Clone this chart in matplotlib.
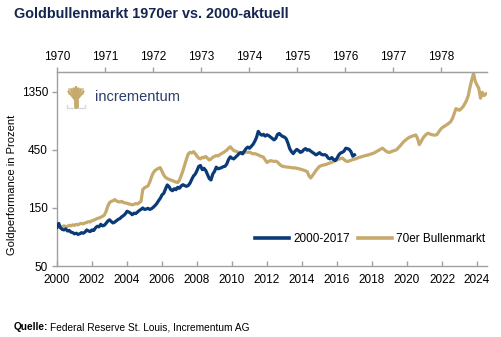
import matplotlib
matplotlib.use("Agg")
import numpy as np
import matplotlib.pyplot as plt
from matplotlib.ticker import FixedLocator, NullLocator, FixedFormatter

# --- data -------------------------------------------------------------
# Gold performance since Jan 2000 (index, start = 100), sampled every 0.1 year
perf_2000 = [
    104, 112, 103, 100, 99, 101, 97, 98, 95, 94,            # 2000
    92, 93, 91, 92, 94, 93, 95, 99, 97, 96,                 # 2001
    99, 98, 103, 106, 105, 110, 107, 108, 112, 117,         # 2002
    120, 116, 113, 115, 118, 121, 123, 127, 130, 134,       # 2003
    141, 139, 136, 132, 136, 135, 139, 143, 146, 150,       # 2004
    146, 147, 149, 146, 148, 152, 157, 163, 172, 180,       # 2005
    192, 198, 215, 232, 225, 212, 208, 216, 212, 222,       # 2006
    218, 228, 233, 229, 226, 230, 240, 258, 275, 285,       # 2007
    305, 330, 335, 310, 318, 305, 282, 262, 255, 285,       # 2008
    300, 325, 315, 318, 322, 328, 330, 345, 375, 395,       # 2009
    385, 380, 392, 405, 420, 428, 418, 440, 462, 475,       # 2010
    465, 482, 500, 530, 570, 640, 610, 595, 605, 585,       # 2011
    600, 590, 575, 560, 545, 560, 605, 615, 595, 580,       # 2012
    575, 555, 510, 460, 435, 420, 440, 455, 445, 430,       # 2013
    435, 452, 462, 448, 452, 440, 430, 420, 410, 418,       # 2014
    428, 415, 410, 412, 405, 385, 380, 390, 375, 368,       # 2015
    385, 410, 425, 430, 440, 465, 462, 455, 435, 400,       # 2016
    410,                                                    # 2017
]

# Gold bull market of the 1970s, stretched onto the same time axis
perf_70s = [
    104, 106, 104, 105, 107, 105, 106, 108, 107, 109,       # 2000
    108, 110, 109, 111, 112, 111, 113, 114, 116, 115,       # 2001
    118, 119, 121, 123, 124, 126, 128, 131, 140, 155,       # 2002
    166, 170, 172, 176, 171, 169, 168, 170, 166, 165,       # 2003
    164, 162, 161, 159, 161, 163, 162, 166, 170, 212,       # 2004
    220, 224, 228, 245, 270, 292, 305, 312, 318, 322,       # 2005
    300, 280, 268, 262, 258, 255, 252, 248, 245, 243,       # 2006
    255, 278, 305, 340, 380, 418, 430, 425, 436, 420,       # 2007
    400, 385, 380, 392, 388, 398, 385, 372, 380, 392,       # 2008
    398, 405, 402, 412, 420, 428, 438, 448, 465, 478,       # 2009
    460, 445, 440, 435, 428, 425, 422, 428, 432, 430,       # 2010
    432, 425, 418, 420, 415, 410, 402, 398, 392, 372,       # 2011
    355, 362, 368, 365, 362, 364, 358, 345, 335, 330,       # 2012
    328, 326, 325, 324, 322, 320, 321, 318, 316, 313,       # 2013
    310, 307, 303, 298, 275, 265, 278, 292, 305, 318,       # 2014
    330, 334, 338, 340, 343, 348, 352, 356, 362, 368,       # 2015
    372, 378, 382, 386, 375, 365, 362, 366, 370, 375,       # 2016
    378, 382, 388, 392, 396, 400, 404, 407, 410, 415,       # 2017
    420, 424, 432, 440, 448, 458, 466, 452, 440, 432,       # 2018
    430, 436, 442, 446, 452, 468, 485, 505, 525, 540,       # 2019
    555, 568, 578, 585, 592, 598, 560, 498, 525, 560,       # 2020
    585, 605, 618, 610, 602, 598, 596, 600, 630, 660,       # 2021
    685, 700, 715, 730, 750, 770, 820, 900, 985, 965,       # 2022
    955, 985, 1020, 1080, 1150, 1260, 1480, 1700, 1920, 1650,  # 2023
    1540, 1450, 1200, 1340, 1260, 1300, 1320,               # 2024
]

label_2000 = "2000-2017"
label_70s = "70er Bullenmarkt"

bottom_ticks = list(range(2000, 2025, 2))
top_ticks = list(range(1970, 1979))
y_ticks = [50, 150, 450, 1350]

years_2000 = np.round(2000 + 0.1 * np.arange(len(perf_2000)), 1)
years_70s = np.round(2000 + 0.1 * np.arange(len(perf_70s)), 1)

# --- style ------------------------------------------------------------
NAVY = "#0b3a78"
GOLD = "#c6a96c"
TITLE = "#14254f"
GRAY = "#a0a0a0"
plt.rcParams["font.family"] = ["Liberation Sans", "DejaVu Sans"]

W, H = 502, 337
fig = plt.figure(figsize=(W / 100, H / 100), dpi=100)
ax = fig.add_axes([57 / W, 1 - 266 / H, (487 - 57) / W, (266 - 72) / H])

ax.plot(years_70s, perf_70s, color=GOLD, lw=2.3, label=label_70s,
        solid_joinstyle="round", zorder=2)
ax.plot(years_2000, perf_2000, color=NAVY, lw=2.3, label=label_2000,
        solid_joinstyle="round", zorder=3)

ax.set_yscale("log")
ax.set_ylim(50, 1970)
ax.set_xlim(2000, 2024.57)
ax.yaxis.set_major_locator(FixedLocator(y_ticks))
ax.yaxis.set_major_formatter(FixedFormatter([str(v) for v in y_ticks]))
ax.yaxis.set_minor_locator(NullLocator())
ax.set_xticks(bottom_ticks)
ax.set_xticklabels([str(t) for t in bottom_ticks])

ax.spines["right"].set_visible(False)
for side in ("left", "bottom", "top"):
    ax.spines[side].set_color(GRAY)
    ax.spines[side].set_linewidth(1.0)

ax.tick_params(axis="x", direction="in", length=3.5, width=1, color=GRAY,
               pad=6, labelsize=8.5, labelcolor="black")
ax.tick_params(axis="y", direction="out", length=3.5, width=1, color=GRAY,
               pad=3, labelsize=8.5, labelcolor="black")

# Top axis: calendar years of the 1970s bull market
scale = (2021.94 - 2000) / 8.0
top = ax.secondary_xaxis("top", functions=(lambda x: 1970 + (x - 2000) / scale,
                                           lambda t: 2000 + (t - 1970) * scale))
top.set_xticks(top_ticks)
top.set_xticklabels([str(t) for t in top_ticks])
top.spines["top"].set_color(GRAY)
top.tick_params(direction="out", length=3.5, width=1, color=GRAY, pad=3,
                labelsize=8.5)

fig.text(12 / W, 1 - 185 / H, "Goldperformance in Prozent", rotation=90,
         ha="center", va="center", fontsize=8)

leg = fig.legend(handles=ax.get_lines()[::-1], loc="center",
                 bbox_to_anchor=(370 / W, 1 - 239 / H), ncol=2, frameon=False,
                 fontsize=8.5, handlelength=2.9, handletextpad=0.3,
                 columnspacing=0.7)
for line in leg.get_lines():
    line.set_linewidth(2.6)

# Title
fig.text(14 / W, 1 - 14 / H, "Goldbullenmarkt 1970er vs. 2000-aktuell",
         ha="left", va="center", fontsize=10.4, fontweight="bold", color=TITLE,
         family=["Liberation Sans Narrow", "Liberation Sans", "DejaVu Sans"])

# Source line
renderer = fig.canvas.get_renderer()
q = fig.text(14 / W, 1 - 327 / H, "Quelle:", ha="left", va="center",
             fontsize=7.3, fontweight="bold")
bb = q.get_window_extent(renderer)
fig.text((bb.x1 + 2) / W, 1 - 327 / H,
         "Federal Reserve St. Louis, Incrementum AG", ha="left", va="center",
         fontsize=7.3)

# Company mark: stylised tree with brand name
logo = fig.add_axes([65 / W, 1 - 110 / H, 22 / W, 27 / H])
logo.set_xlim(0, 22)
logo.set_ylim(0, 27)
logo.axis("off")
for dx in (-8, -5, -2.5, 0, 2.5, 5, 8):
    logo.plot([11, 11 + dx], [9, 24 - abs(dx) * 0.6], color=GOLD, lw=1.6,
              solid_capstyle="butt")
logo.fill_between([3, 19], [15, 15], [22, 22], color=GOLD, alpha=0.55, lw=0)
logo.plot([10, 10, 12, 12], [3, 10, 10, 3], color=GOLD, lw=2)
logo.plot([2, 2, 9], [5, 2, 2], color="#d8d8d8", lw=1)
logo.plot([13, 20, 20], [2, 2, 5], color="#d8d8d8", lw=1)
fig.text(95 / W, 1 - 97 / H, "incrementum", ha="left", va="center",
         fontsize=10.5, color="#2b3d6b")

fig.savefig("out.png", dpi=100)
